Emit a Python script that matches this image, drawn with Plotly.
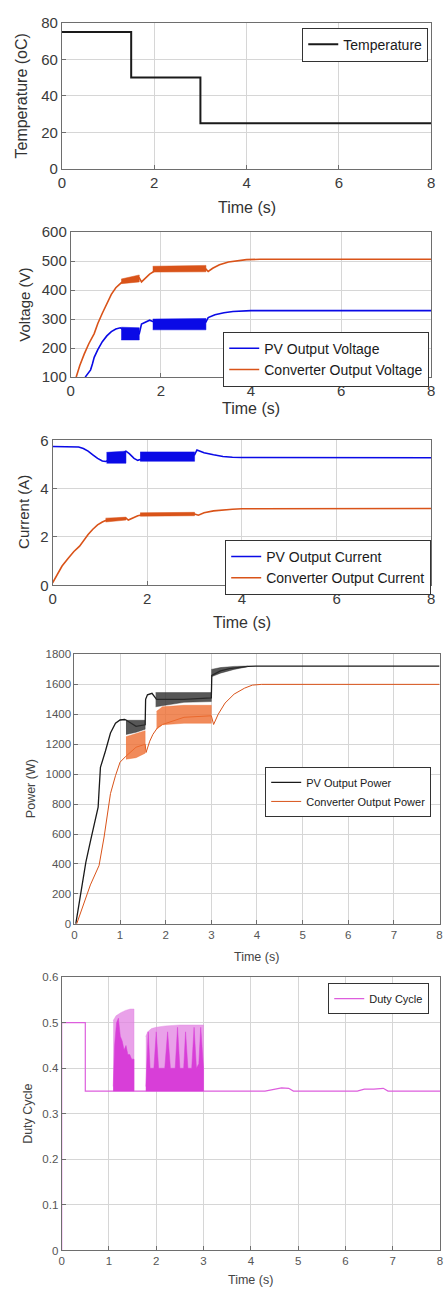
import plotly.graph_objects as go

W, H = 446, 1296

# ---------------- data ----------------
# Panel 1: temperature
temp_t = [0, 1.5, 3.0, 8.0]
temp_v = [75, 50, 25, 25]

# Panel 2: voltages
vpv_t = [0.32, 0.4, 0.44, 0.48, 0.52, 0.6, 0.7, 0.8, 0.9, 1.0, 1.1, 1.3, 1.52, 1.57, 1.65, 1.75, 1.85, 2.4, 3.0, 3.05, 3.2, 3.4, 3.6, 3.8, 4.0, 8.0]
vpv_v = [100, 118, 125, 145, 168, 195, 222, 242, 257, 266, 270, 250, 250, 283, 290, 296, 290, 285, 290, 305, 315, 322, 326, 328, 329, 329]
vpv_b1_t, vpv_b1_lo, vpv_b1_hi = [1.12, 1.52], [228, 228], [272, 270]
vpv_b2_t, vpv_b2_lo, vpv_b2_hi = [1.82, 3.0], [263, 263], [300, 302]

vcv_t = [0.12, 0.2, 0.3, 0.4, 0.52, 0.6, 0.7, 0.8, 0.9, 1.0, 1.12, 1.3, 1.52, 1.57, 1.65, 1.75, 1.85, 2.4, 3.0, 3.05, 3.15, 3.3, 3.5, 3.7, 3.9, 4.2, 8.0]
vcv_v = [100, 140, 180, 215, 250, 285, 320, 355, 385, 408, 425, 435, 442, 428, 440, 455, 465, 470, 472, 464, 475, 487, 497, 502, 505, 506, 506]
vcv_b1_t, vcv_b1_lo, vcv_b1_hi = [1.12, 1.3, 1.52], [422, 425, 428], [438, 445, 452]
vcv_b2_t, vcv_b2_lo, vcv_b2_hi = [1.82, 2.4, 3.0], [462, 462, 463], [482, 483, 485]

# Panel 3: currents
ipv_t = [0, 0.3, 0.55, 0.65, 0.75, 0.85, 0.95, 1.05, 1.12, 1.35, 1.55, 1.62, 1.72, 1.8, 1.85, 2.4, 3.0, 3.05, 3.2, 3.4, 3.6, 3.8, 4.0, 8.0]
ipv_v = [5.74, 5.74, 5.72, 5.66, 5.55, 5.4, 5.25, 5.14, 5.12, 5.3, 5.55, 5.45, 5.25, 5.17, 5.2, 5.3, 5.4, 5.6, 5.48, 5.4, 5.33, 5.3, 5.29, 5.28]
ipv_b1_t, ipv_b1_lo, ipv_b1_hi = [1.14, 1.55], [5.05, 5.05], [5.5, 5.55]
ipv_b2_t, ipv_b2_lo, ipv_b2_hi = [1.85, 3.0], [5.13, 5.13], [5.52, 5.52]

icv_t = [0, 0.1, 0.2, 0.33, 0.45, 0.57, 0.65, 0.75, 0.85, 0.95, 1.05, 1.12, 1.35, 1.55, 1.6, 1.7, 1.8, 1.9, 2.4, 3.0, 3.08, 3.2, 3.4, 3.6, 3.8, 4.0, 8.0]
icv_v = [0.1, 0.45, 0.8, 1.12, 1.4, 1.62, 1.85, 2.1, 2.32, 2.5, 2.62, 2.68, 2.75, 2.78, 2.7, 2.8, 2.88, 2.92, 2.93, 2.95, 2.9, 3.0, 3.08, 3.13, 3.15, 3.17, 3.18]
icv_b1_t, icv_b1_lo, icv_b1_hi = [1.12, 1.55], [2.62, 2.7], [2.78, 2.82]
icv_b2_t, icv_b2_lo, icv_b2_hi = [1.85, 3.0], [2.86, 2.88], [3.0, 3.02]

# Panel 4: power
ppv_t = [0.03, 0.08, 0.14, 0.25, 0.36, 0.47, 0.52, 0.54, 0.57, 0.68, 0.79, 0.9, 1.0, 1.1, 1.13, 1.35, 1.55, 1.56, 1.6, 1.7, 1.8, 2.4, 3.0, 3.01, 3.2, 3.4, 3.6, 3.8, 4.0, 8.0]
ppv_v = [0, 100, 190, 410, 565, 715, 780, 890, 1045, 1155, 1275, 1340, 1362, 1365, 1362, 1320, 1330, 1500, 1530, 1540, 1500, 1500, 1510, 1660, 1690, 1705, 1715, 1720, 1722, 1722]
ppv_b1_t, ppv_b1_lo, ppv_b1_hi = [1.13, 1.35, 1.55], [1265, 1280, 1300], [1360, 1360, 1360]
ppv_b2_t, ppv_b2_lo, ppv_b2_hi = [1.78, 2.4, 3.0], [1450, 1480, 1485], [1545, 1545, 1545]
ppv_b3_t, ppv_b3_lo, ppv_b3_hi = [3.0, 3.2, 3.5, 3.8], [1650, 1675, 1700, 1718], [1700, 1712, 1720, 1722]

pcv_t = [0.05, 0.2, 0.35, 0.54, 0.65, 0.79, 0.9, 1.0, 1.13, 1.35, 1.55, 1.57, 1.65, 1.72, 1.82, 1.93, 2.4, 3.0, 3.05, 3.15, 3.3, 3.5, 3.73, 3.9, 4.1, 8.0]
pcv_v = [0, 130, 260, 390, 580, 870, 990, 1080, 1120, 1180, 1200, 1145, 1220, 1266, 1310, 1332, 1380, 1390, 1332, 1400, 1475, 1535, 1575, 1595, 1600, 1600]
pcv_b1_t, pcv_b1_lo, pcv_b1_hi = [1.13, 1.35, 1.55], [1100, 1110, 1140], [1250, 1270, 1290]
pcv_b2_t, pcv_b2_lo, pcv_b2_hi = [1.8, 1.93, 2.4, 3.0], [1300, 1330, 1340, 1340], [1420, 1450, 1460, 1460]

# Panel 5: duty cycle
duty_t = [0, 0, 0.5, 0.5, 4.3, 4.5, 4.65, 4.8, 4.9, 6.25, 6.4, 6.6, 6.8, 6.9, 8.0]
duty_v = [0, 0.5, 0.5, 0.35, 0.35, 0.354, 0.357, 0.356, 0.35, 0.35, 0.354, 0.354, 0.356, 0.35, 0.35]
duty_b1_t = [1.09, 1.15, 1.25, 1.35, 1.45, 1.53]
duty_b1_hi = [0.505, 0.515, 0.522, 0.527, 0.53, 0.53]
duty_b2_t = [1.78, 1.82, 1.9, 2.0, 2.2, 2.5, 2.8, 3.0]
duty_b2_hi = [0.47, 0.48, 0.487, 0.49, 0.493, 0.495, 0.495, 0.495]
duty_c1_t = [1.09, 1.12, 1.16, 1.2, 1.24, 1.28, 1.32, 1.36, 1.4, 1.44, 1.48, 1.53]
duty_c1_v = [0.36, 0.45, 0.5, 0.51, 0.47, 0.46, 0.44, 0.45, 0.43, 0.43, 0.42, 0.42]
duty_c2_t = [1.78, 1.83, 1.87, 1.95, 2.0, 2.05, 2.18, 2.24, 2.3, 2.4, 2.45, 2.5, 2.58, 2.62, 2.67, 2.75, 2.8, 2.85, 2.9, 2.94, 3.0]
duty_c2_v = [0.36, 0.48, 0.40, 0.40, 0.48, 0.40, 0.40, 0.48, 0.40, 0.40, 0.49, 0.40, 0.40, 0.48, 0.40, 0.40, 0.49, 0.40, 0.41, 0.49, 0.40]
duty_base = 0.35

# ---------------- styling ----------------
BLUE = "#0A0AE6"
ORANGE = "#D95319"
BLACK = "#1a1a1a"
MAG = "#DD5EDD"
FONT = "Liberation Sans, Arial, sans-serif"

def fx(px):
    return px / W

def fy(py):
    return 1 - py / H

fig = go.Figure()

def band(t, lo, hi, color, xa, ya):
    fig.add_trace(go.Scatter(
        x=list(t) + list(t)[::-1], y=list(hi) + list(lo)[::-1],
        fill="toself", fillcolor=color, line=dict(width=0.5, color=color),
        mode="lines", showlegend=False, hoverinfo="skip", xaxis=xa, yaxis=ya))

# panel 1
fig.add_trace(go.Scatter(x=temp_t, y=temp_v, mode="lines", line=dict(color=BLACK, width=2, shape="hv"),
                         name="Temperature", xaxis="x", yaxis="y", legend="legend"))
# panel 2
fig.add_trace(go.Scatter(x=vpv_t, y=vpv_v, mode="lines", line=dict(color=BLUE, width=1.6),
                         name="PV Output Voltage", xaxis="x2", yaxis="y2", legend="legend2"))
fig.add_trace(go.Scatter(x=vcv_t, y=vcv_v, mode="lines", line=dict(color=ORANGE, width=1.6),
                         name="Converter Output Voltage", xaxis="x2", yaxis="y2", legend="legend2"))
band(vpv_b1_t, vpv_b1_lo, vpv_b1_hi, BLUE, "x2", "y2")
band(vpv_b2_t, vpv_b2_lo, vpv_b2_hi, BLUE, "x2", "y2")
band(vcv_b1_t, vcv_b1_lo, vcv_b1_hi, ORANGE, "x2", "y2")
band(vcv_b2_t, vcv_b2_lo, vcv_b2_hi, ORANGE, "x2", "y2")
# panel 3
fig.add_trace(go.Scatter(x=ipv_t, y=ipv_v, mode="lines", line=dict(color=BLUE, width=1.6),
                         name="PV Output Current", xaxis="x3", yaxis="y3", legend="legend3"))
fig.add_trace(go.Scatter(x=icv_t, y=icv_v, mode="lines", line=dict(color=ORANGE, width=1.6),
                         name="Converter Output Current", xaxis="x3", yaxis="y3", legend="legend3"))
band(ipv_b1_t, ipv_b1_lo, ipv_b1_hi, BLUE, "x3", "y3")
band(ipv_b2_t, ipv_b2_lo, ipv_b2_hi, BLUE, "x3", "y3")
band(icv_b1_t, icv_b1_lo, icv_b1_hi, ORANGE, "x3", "y3")
band(icv_b2_t, icv_b2_lo, icv_b2_hi, ORANGE, "x3", "y3")
# panel 4
fig.add_trace(go.Scatter(x=ppv_t, y=ppv_v, mode="lines", line=dict(color=BLACK, width=1.3),
                         name="PV Output Power", xaxis="x4", yaxis="y4", legend="legend4"))
fig.add_trace(go.Scatter(x=pcv_t, y=pcv_v, mode="lines", line=dict(color=ORANGE, width=1),
                         name="Converter Output Power", xaxis="x4", yaxis="y4", legend="legend4"))
band(ppv_b1_t, ppv_b1_lo, ppv_b1_hi, "rgba(45,45,45,0.8)", "x4", "y4")
band(ppv_b2_t, ppv_b2_lo, ppv_b2_hi, "rgba(45,45,45,0.8)", "x4", "y4")
band(ppv_b3_t, ppv_b3_lo, ppv_b3_hi, "rgba(45,45,45,0.8)", "x4", "y4")
band(pcv_b1_t, pcv_b1_lo, pcv_b1_hi, "rgba(238,110,50,0.8)", "x4", "y4")
band(pcv_b2_t, pcv_b2_lo, pcv_b2_hi, "rgba(238,110,50,0.8)", "x4", "y4")
# panel 5
fig.add_trace(go.Scatter(x=duty_t, y=duty_v, mode="lines", line=dict(color=MAG, width=1.2),
                         name="Duty Cycle", xaxis="x5", yaxis="y5", legend="legend5"))
band(duty_b1_t, [duty_base] * len(duty_b1_t), duty_b1_hi, "rgba(225,130,225,0.75)", "x5", "y5")
band(duty_b2_t, [duty_base] * len(duty_b2_t), duty_b2_hi, "rgba(225,130,225,0.75)", "x5", "y5")
band(duty_c1_t, [duty_base] * len(duty_c1_t), duty_c1_v, "#D83ED8", "x5", "y5")
band(duty_c2_t, [duty_base] * len(duty_c2_t), duty_c2_v, "#D83ED8", "x5", "y5")

# ---------------- axes ----------------
panels = [
    # (suffix, x px range, y px range, yrange, ydtick, xdtick, tick font, tick color)
    ("", (59, 435), (14, 162), [0, 80], 20, 2, 15, "#3a3a3a"),
    ("2", (68, 435), (226, 373), [100, 600], 100, 2, 15, "#3a3a3a"),
    ("3", (49.5, 435), (437, 584), [0, 6], 2, 2, 15, "#3a3a3a"),
    ("4", (71.7, 443.5), (654, 927), [0, 1800], 200, 1, 11.5, "#555555"),
    ("5", (58.7, 444), (981, 1258), [0, 0.6], 0.1, 1, 11.5, "#555555"),
]
layout = dict(width=W, height=H, margin=dict(l=0, r=0, t=0, b=0),
              paper_bgcolor="white", plot_bgcolor="white",
              font=dict(family=FONT, color="#333"))
for suf, (x0, x1), (y0, y1), yr, ydt, xdt, tf, tc in panels:
    common = dict(showgrid=True, gridcolor="#d6d6d6", gridwidth=1, zeroline=False,
                  showline=True, linecolor="#6e6e6e", linewidth=1, mirror=True,
                  ticks="inside", ticklen=4, tickcolor="#6e6e6e",
                  tickfont=dict(size=tf, color=tc, family=FONT))
    layout["xaxis" + suf] = dict(domain=[fx(x0), fx(x1)], range=[0, 8], dtick=xdt, tick0=0,
                                 anchor="y" + suf, **common)
    layout["yaxis" + suf] = dict(domain=[fy(y1), fy(y0)], range=yr, dtick=ydt, tick0=yr[0],
                                 anchor="x" + suf, **common)

# legends
leg_specs = [
    ("legend", 432, 19, 14),
    ("legend2", 433, 327, 14),
    ("legend3", 435, 538, 14),
    ("legend4", 435, 768, 11),
    ("legend5", 433, 987, 11),
]
for name, rx, ty, fs in leg_specs:
    layout[name] = dict(x=fx(rx), y=fy(ty), xanchor="right", yanchor="top",
                        bgcolor="white", bordercolor="#333", borderwidth=1,
                        font=dict(size=fs, color="#1a1a1a", family=FONT),
                        tracegroupgap=0)
fig.update_layout(**layout)

# axis titles as annotations
titles = [
    ("Time (s)", 247, 201, 0, 16, "#333"),
    ("Temperature (oC)", 18, 88, -90, 16, "#333"),
    ("Time (s)", 252, 405, 0, 16, "#333"),
    ("Voltage (V)", 20, 300, -90, 15, "#333"),
    ("Time (s)", 242, 622, 0, 16, "#333"),
    ("Current (A)", 20, 510, -90, 15, "#333"),
    ("Time (s)", 257, 961, 0, 12.5, "#444"),
    ("Power (W)", 27, 790, -90, 12.5, "#444"),
    ("Time (s)", 251, 1288, 0, 12.5, "#444"),
    ("Duty Cycle", 25, 1120, -90, 12.5, "#444"),
]
for txt, px, py, ang, fs, col in titles:
    fig.add_annotation(text=txt, x=fx(px), y=fy(py), xref="paper", yref="paper",
                       showarrow=False, textangle=ang, xanchor="center", yanchor="middle",
                       font=dict(size=fs, color=col, family=FONT))

fig.write_html("out.html", config={"displayModeBar": False},
               post_script="document.body.style.margin='0';")
